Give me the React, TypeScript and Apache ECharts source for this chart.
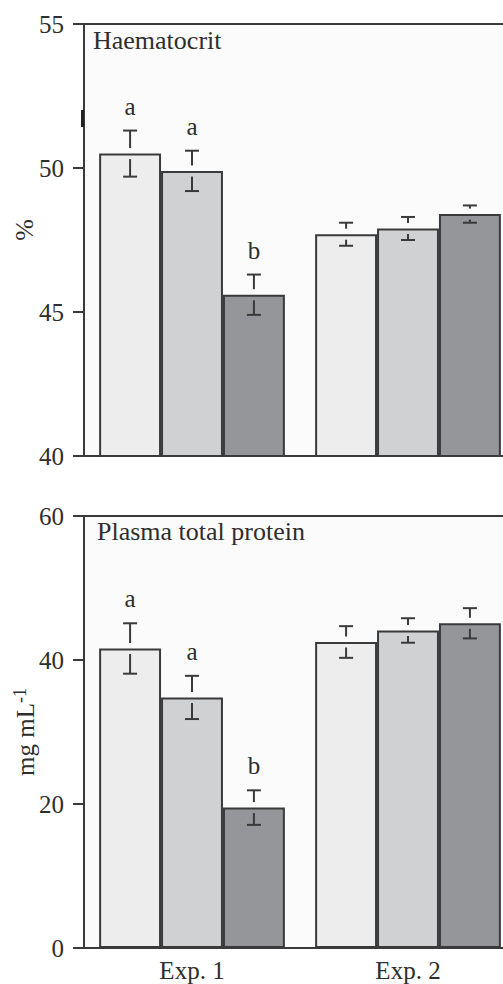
import React, { useEffect, useRef } from "react";
import * as echarts from "echarts";

const categories = ["Exp. 1", "Exp. 2"];
const seriesNames = ["Group 1", "Group 2", "Group 3"];
const barColors = ["#ededed", "#d0d1d3", "#95969a"];

// Haematocrit (%)
const hctMean1 = [50.5, 47.7];
const hctMean2 = [49.9, 47.9];
const hctMean3 = [45.6, 48.4];
const hctErr1 = [0.8, 0.4];
const hctErr2 = [0.7, 0.4];
const hctErr3 = [0.7, 0.3];
const hctLetters1 = ["a", ""];
const hctLetters2 = ["a", ""];
const hctLetters3 = ["b", ""];

// Plasma total protein (mg mL-1)
const protMean1 = [41.6, 42.5];
const protMean2 = [34.8, 44.1];
const protMean3 = [19.5, 45.1];
const protErr1 = [3.5, 2.2];
const protErr2 = [3.0, 1.7];
const protErr3 = [2.4, 2.1];
const protLetters1 = ["a", ""];
const protLetters2 = ["a", ""];
const protLetters3 = ["b", ""];

const FONT = "'Liberation Serif', 'Times New Roman', serif";
const FS = 25;
const INK = "#3a3a3a";
const TXT = "#2e2e2e";
const CAT_GAP = 0.14;

function buildErrData(means: number[][], errs: number[][], letters: string[][]) {
  const data: any[] = [];
  const labels: string[] = [];
  for (let s = 0; s < means.length; s++) {
    for (let c = 0; c < categories.length; c++) {
      data.push([c, s, means[s][c], errs[s][c]]);
      labels.push(letters[s][c]);
    }
  }
  return { data, labels };
}

function makeRenderItem(labels: string[]) {
  return (params: any, api: any) => {
    const cat = api.value(0);
    const s = api.value(1);
    const v = api.value(2);
    const e = api.value(3);
    const catW = api.size([1, 0])[0];
    const bw = (catW * (1 - CAT_GAP)) / 3;
    const base = api.coord([cat, v]);
    const x = base[0] + (s - 1) * bw;
    const yBar = base[1];
    const yTop = api.coord([cat, v + e])[1];
    const yBot = api.coord([cat, v - e])[1];
    const half = 7;
    const gap = 5.5;
    const ls = { stroke: INK, lineWidth: 2 };
    const children: any[] = [
      { type: "line", shape: { x1: x - half, y1: yTop, x2: x + half, y2: yTop }, style: ls },
      { type: "line", shape: { x1: x - half, y1: yBot, x2: x + half, y2: yBot }, style: ls },
    ];
    if (yBar - gap > yTop) {
      children.push({ type: "line", shape: { x1: x, y1: yTop, x2: x, y2: yBar - gap }, style: ls });
    }
    if (yBar + gap < yBot) {
      children.push({ type: "line", shape: { x1: x, y1: yBar + gap, x2: x, y2: yBot }, style: ls });
    }
    const letter = labels[params.dataIndex];
    if (letter) {
      children.push({
        type: "text",
        x: x,
        y: yTop - 12,
        style: {
          text: letter,
          fill: TXT,
          fontSize: FS,
          fontFamily: FONT,
          align: "center",
          verticalAlign: "bottom",
        },
      });
    }
    return { type: "group", children };
  };
}

export default function App() {
  const ref = useRef<HTMLDivElement>(null);

  useEffect(() => {
    if (!ref.current) return;
    const chart = echarts.init(ref.current, undefined, { renderer: "svg" });

    const hct = buildErrData(
      [hctMean1, hctMean2, hctMean3],
      [hctErr1, hctErr2, hctErr3],
      [hctLetters1, hctLetters2, hctLetters3]
    );
    const prot = buildErrData(
      [protMean1, protMean2, protMean3],
      [protErr1, protErr2, protErr3],
      [protLetters1, protLetters2, protLetters3]
    );
    const hctMeans = [hctMean1, hctMean2, hctMean3];
    const protMeans = [protMean1, protMean2, protMean3];

    const axisLine = { show: true, lineStyle: { color: INK, width: 2 } };
    const gridCommon = {
      left: 84,
      width: 432,
      height: 432,
      show: true,
      borderColor: INK,
      borderWidth: 2,
      backgroundColor: "#fbfbfb",
      outerBoundsMode: "none",
      containLabel: false,
    };

    const barSeries = (gridIdx: number, means: number[][]) =>
      means.map((m, i) => ({
        type: "bar",
        name: seriesNames[i],
        xAxisIndex: gridIdx,
        yAxisIndex: gridIdx,
        data: m,
        barGap: "0%",
        barCategoryGap: "14%",
        clip: true,
        itemStyle: { color: barColors[i], borderColor: INK, borderWidth: 2 },
        z: 2,
      }));

    const yAxisCommon = {
      type: "value",
      axisLine,
      axisTick: { show: true, inside: false, length: 11, lineStyle: { color: INK, width: 2 } },
      axisLabel: { fontSize: FS, color: TXT, margin: 20, fontFamily: FONT },
      splitLine: { show: false },
      nameLocation: "middle",
      nameRotate: 90,
      nameMoveOverlap: false,
    };

    chart.setOption({
      animation: false,
      backgroundColor: "#ffffff",
      graphic: [
        { type: "rect", left: 81, top: 110, shape: { width: 3, height: 17 }, style: { fill: "#222" }, z: 10 },
      ],
      title: [
        {
          text: "Haematocrit",
          left: 93,
          top: 27,
          padding: 0,
          textStyle: { fontSize: 26, fontWeight: "normal", color: TXT, fontFamily: FONT },
        },
        {
          text: "Plasma total protein",
          left: 97,
          top: 518,
          padding: 0,
          textStyle: { fontSize: 26, fontWeight: "normal", color: TXT, fontFamily: FONT },
        },
      ],
      grid: [
        { ...gridCommon, top: 24 },
        { ...gridCommon, top: 516 },
      ],
      xAxis: [
        {
          type: "category",
          gridIndex: 0,
          data: categories,
          axisLine,
          axisTick: { show: false },
          axisLabel: { show: false },
        },
        {
          type: "category",
          gridIndex: 1,
          data: categories,
          axisLine,
          axisTick: { show: false },
          axisLabel: { fontSize: FS, color: TXT, margin: 10, fontFamily: FONT },
        },
      ],
      yAxis: [
        {
          ...yAxisCommon,
          gridIndex: 0,
          min: 40,
          max: 55,
          interval: 5,
          name: "%",
          nameGap: 47,
          nameTextStyle: { fontSize: 26, color: TXT, fontFamily: FONT, padding: [0, 0, 0, 20] },
        },
        {
          ...yAxisCommon,
          gridIndex: 1,
          min: 0,
          max: 60,
          interval: 20,
          name: "mg mL{sup|-1}",
          nameGap: 45,
          nameTextStyle: {
            fontSize: FS,
            color: TXT,
            fontFamily: FONT,
            rich: {
              sup: { fontSize: 18, color: TXT, fontFamily: FONT, verticalAlign: "top", padding: [0, 0, 10, 0] },
            },
          },
        },
      ],
      series: [
        ...barSeries(0, hctMeans),
        ...barSeries(1, protMeans),
        {
          type: "custom",
          name: "Haematocrit SE",
          xAxisIndex: 0,
          yAxisIndex: 0,
          encode: { x: 0, y: 2 },
          data: hct.data,
          renderItem: makeRenderItem(hct.labels),
          clip: false,
          z: 5,
        },
        {
          type: "custom",
          name: "Protein SE",
          xAxisIndex: 1,
          yAxisIndex: 1,
          encode: { x: 0, y: 2 },
          data: prot.data,
          renderItem: makeRenderItem(prot.labels),
          clip: false,
          z: 5,
        },
      ],
    } as any);

    return () => chart.dispose();
  }, []);

  return (
    <div
      style={{ position: "absolute", left: 0, top: 0, width: 503, height: 984, overflow: "hidden", background: "#fff" }}
    >
      <div ref={ref} style={{ width: 503, height: 984 }} />
    </div>
  );
}
